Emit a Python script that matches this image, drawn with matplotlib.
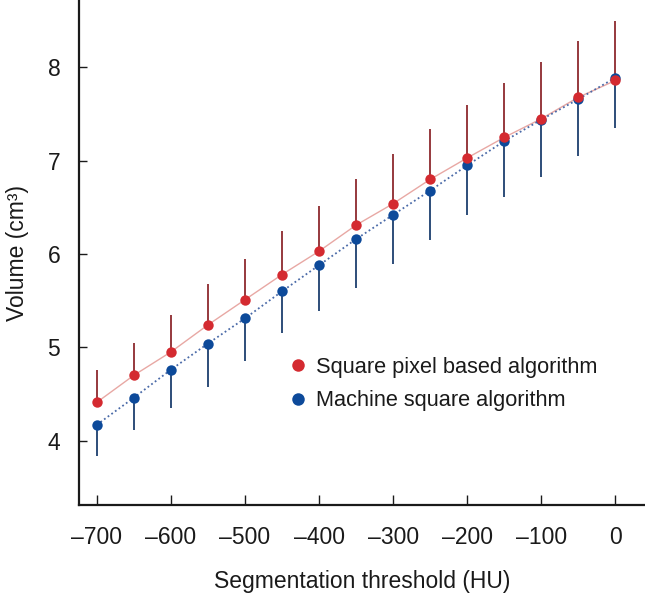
import matplotlib
matplotlib.use("Agg")
import matplotlib.pyplot as plt
import numpy as np

plt.rcParams['font.family'] = ['Liberation Sans', 'DejaVu Sans']

threshold = [-700, -650, -600, -550, -500, -450, -400, -350, -300, -250, -200, -150, -100, -50, 0]

square_mean = [4.41, 4.70, 4.95, 5.24, 5.51, 5.78, 6.03, 6.31, 6.54, 6.80, 7.03, 7.25, 7.45, 7.68, 7.86]
square_upper = [4.76, 5.05, 5.35, 5.68, 5.95, 6.25, 6.52, 6.80, 7.07, 7.34, 7.60, 7.83, 8.06, 8.28, 8.50]

machine_mean = [4.17, 4.46, 4.76, 5.04, 5.31, 5.60, 5.88, 6.16, 6.42, 6.68, 6.95, 7.21, 7.44, 7.66, 7.89]
machine_lower = [3.83, 4.11, 4.35, 4.58, 4.85, 5.15, 5.39, 5.64, 5.89, 6.15, 6.42, 6.61, 6.83, 7.05, 7.35]

red = '#d42a30'
blue = '#0d4a9a'

x = np.array(threshold)
sm = np.array(square_mean)
mm = np.array(machine_mean)

fig = plt.figure(figsize=(6.45, 5.96), dpi=100)
ax = fig.add_axes([0.1225, 0.1527, 0.8775, 0.8453])

# connecting lines
ax.plot(x, sm, color='#e8a8a4', linewidth=1.0, linestyle='-', zorder=1)
ax.plot(x, mm, color='#4a6aa8', linewidth=1.3, linestyle=(0, (1, 1.5)), zorder=1)

# one-sided error bars
ax.errorbar(x, sm, yerr=[np.zeros_like(sm), np.array(square_upper) - sm],
            fmt='none', ecolor='#8e2a2e', elinewidth=1.3, capsize=0, zorder=2)
ax.errorbar(x, mm, yerr=[mm - np.array(machine_lower), np.zeros_like(mm)],
            fmt='none', ecolor='#1c3f6e', elinewidth=1.3, capsize=0, zorder=2)

ax.plot(x, mm, 'o', color=blue, markersize=7.5, markeredgewidth=0, zorder=3,
        label='Machine square algorithm')
ax.plot(x, sm, 'o', color=red, markersize=7.5, markeredgewidth=0, zorder=4,
        label='Square pixel based algorithm')

ax.set_xlim(-724, 40)
ax.set_ylim(3.31, 8.71)
ax.set_xticks(range(-700, 1, 100))
ax.set_xticklabels(['\u2013700', '\u2013600', '\u2013500', '\u2013400', '\u2013300',
                    '\u2013200', '\u2013100', '0'])
ax.set_yticks([4, 5, 6, 7, 8])

for s in ['top', 'right']:
    ax.spines[s].set_visible(False)
for s in ['left', 'bottom']:
    ax.spines[s].set_linewidth(1.6)
    ax.spines[s].set_color('#1a1a1a')

ax.tick_params(axis='x', direction='in', length=7, width=1, pad=15, labelsize=16.5, colors='#1a1a1a')
ax.tick_params(axis='y', direction='in', length=6, width=1, pad=13.5, labelsize=16.5, colors='#1a1a1a')

ax.set_xlabel('Segmentation threshold (HU)', fontsize=16.5, labelpad=15, color='#1a1a1a')
ax.set_ylabel('Volume (cm\u00b3)', fontsize=16.5, labelpad=13, color='#1a1a1a')

h, l = ax.get_legend_handles_labels()
leg = ax.legend(h[::-1], l[::-1], loc='upper left', bbox_to_anchor=(0.352, 0.312),
                frameon=False, fontsize=15.7, handletextpad=0.35, handlelength=1.0,
                labelspacing=0.58, markerscale=1.2, borderaxespad=0)
for t in leg.get_texts():
    t.set_color('#1a1a1a')

plt.savefig('out.png', dpi=100)
